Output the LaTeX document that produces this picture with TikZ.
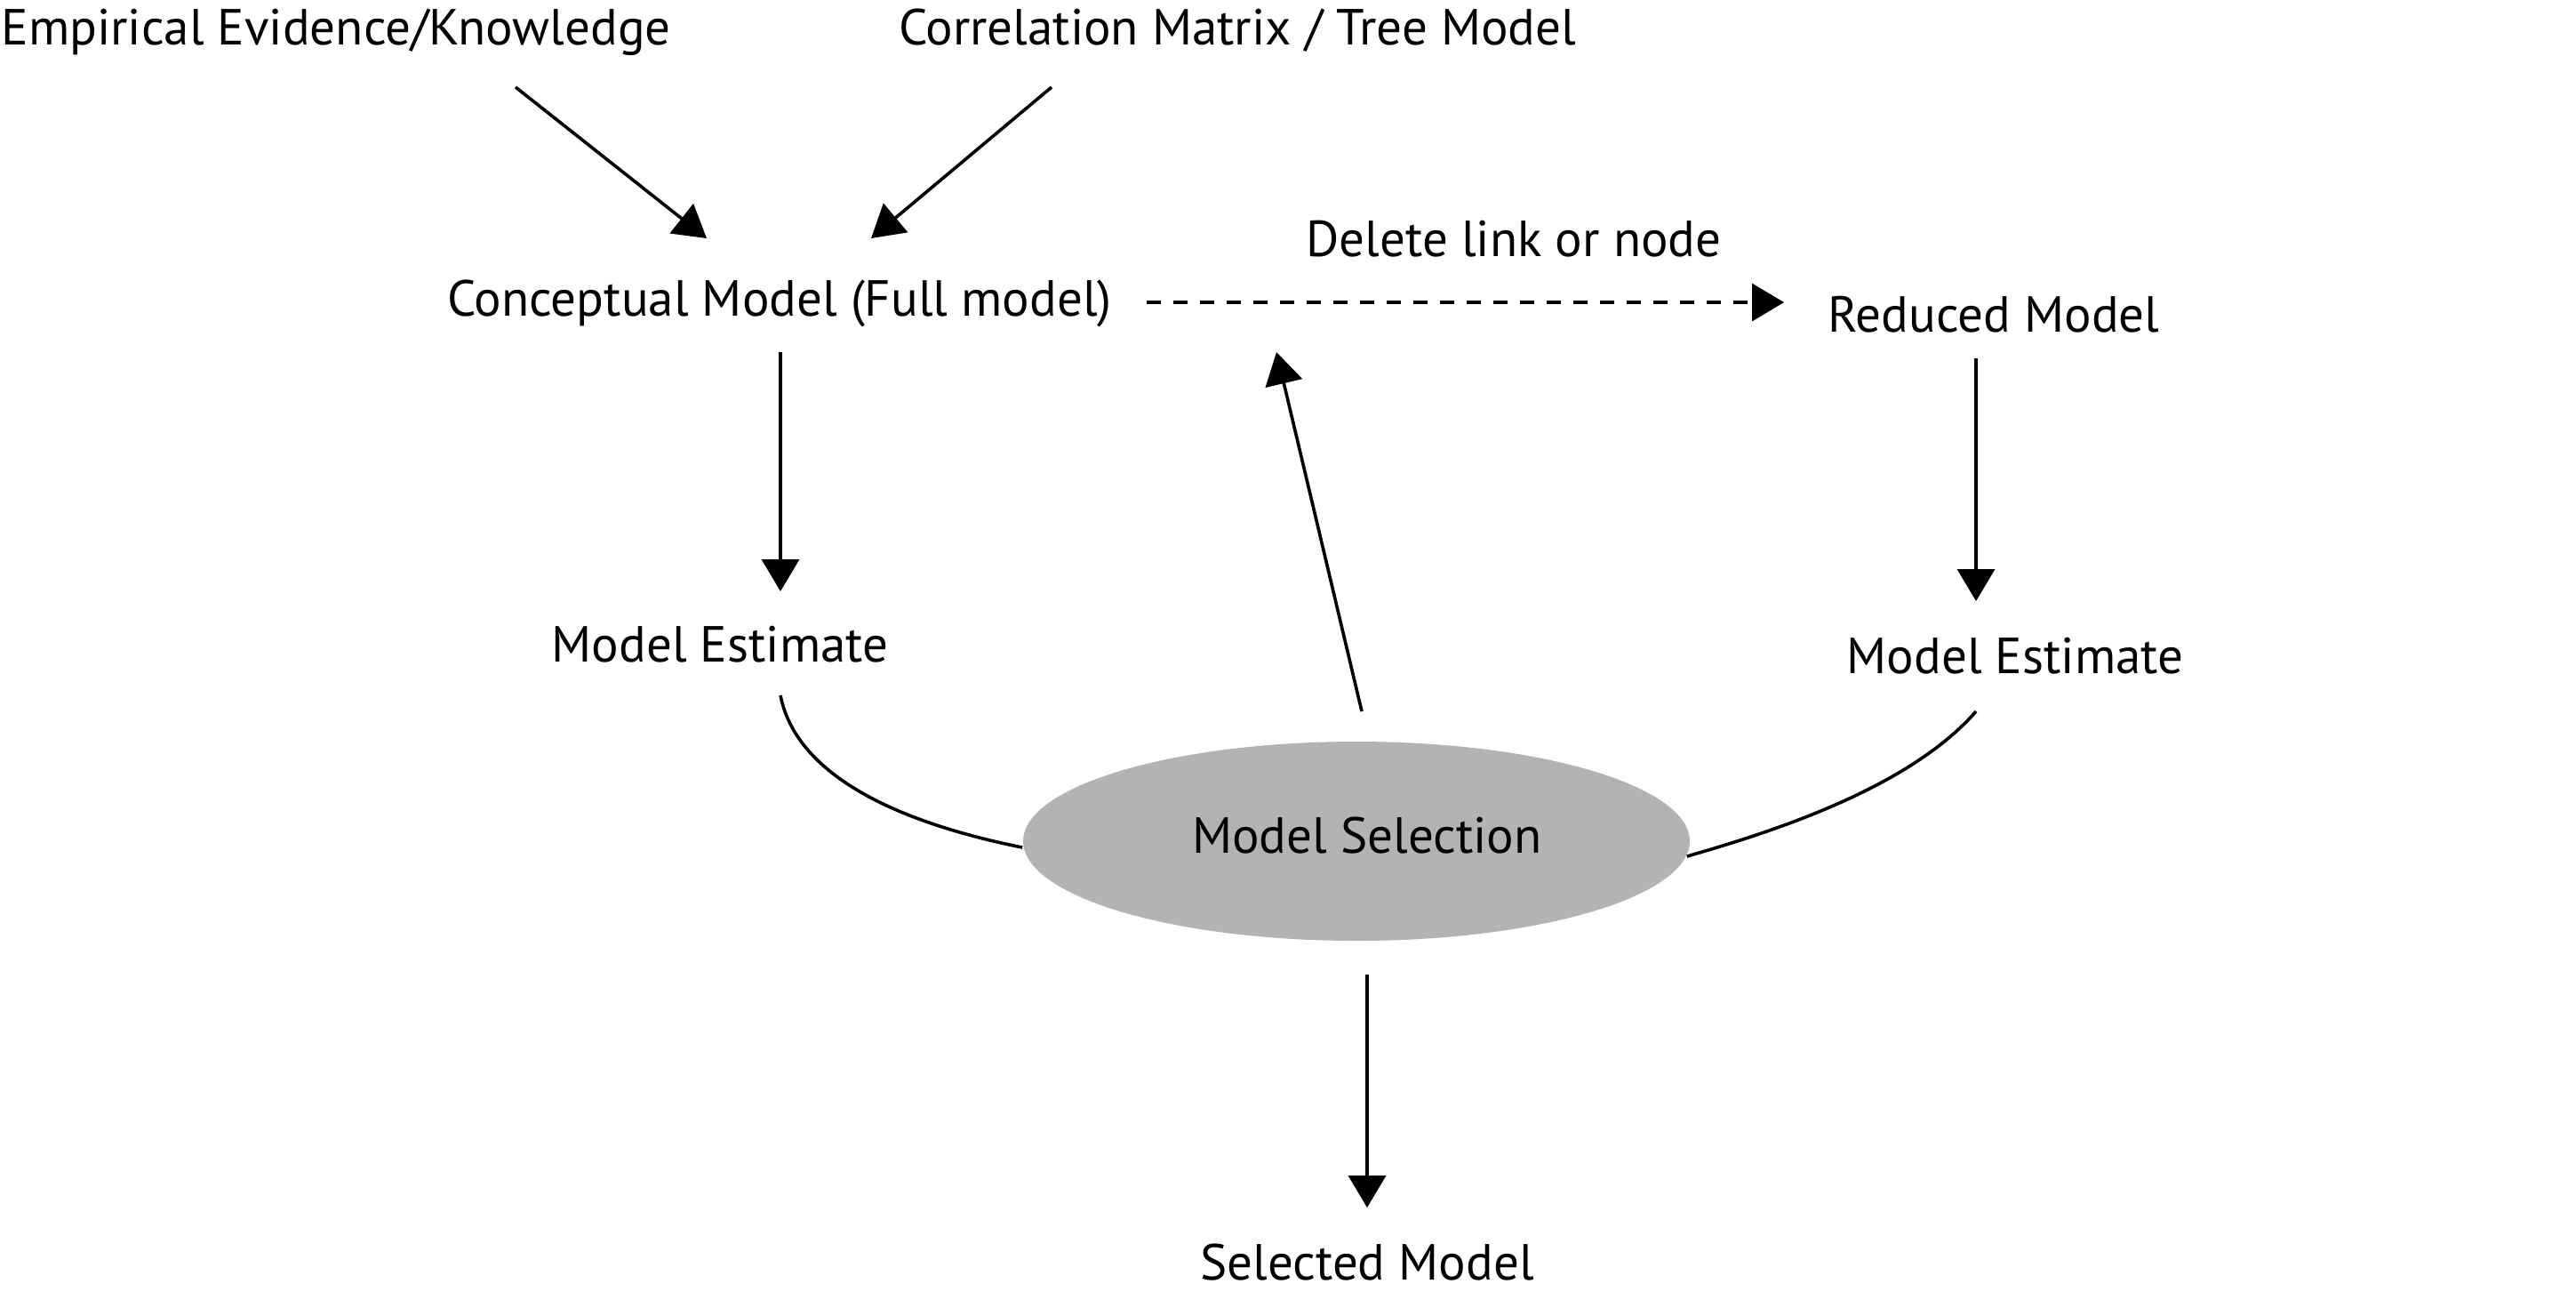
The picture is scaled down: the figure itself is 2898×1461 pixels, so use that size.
\documentclass[tikz,border=0pt]{standalone}
\usepackage{fontspec}
\setmainfont{PT Sans}
\usetikzlibrary{arrows.meta,shapes.geometric}
\begin{document}
\begin{tikzpicture}[x=0.25pt,y=-0.25pt,
  lbl/.style={inner sep=0pt,font=\fontsize{14.25}{17}\selectfont,text height=13pt,text depth=3pt},
  arr/.style={line width=0.9pt,-{Triangle[length=9pt,width=10.5pt]}},
  conn/.style={line width=0.9pt},
  sel/.style={ellipse,fill=selgray,draw=none,minimum width=187.5pt,minimum height=56pt,inner sep=0pt,font=\fontsize{14.25}{17}\selectfont}]
\definecolor{selgray}{RGB}{179,179,179}
\useasboundingbox (0,0) rectangle (2898,1461);
\node[lbl] (emp) at (378,30) {Empirical Evidence/Knowledge};
\node[lbl] (corr) at (1392,30) {Correlation Matrix / Tree Model};
\node[lbl] (concept) at (877,335) {Conceptual Model (Full model)};
\node[lbl] (del) at (1703,268) {Delete link or node};
\node[lbl] (reduced) at (2243,353) {Reduced Model};
\node[lbl] (me1) at (810,724) {Model Estimate};
\node[lbl] (me2) at (2267,737) {Model Estimate};
\node[sel] (ms) at (1526,946) {\hspace{6pt}\raisebox{3.4pt}{Model Selection}};
\node[lbl] (selm) at (1538,1419) {Selected Model};

\draw[arr] ([shift={(202,68)}]emp.center) -- ([shift={(-82,-67)}]concept.center);
\draw[arr] ([shift={(-209,68)}]corr.center) -- ([shift={(103,-67)}]concept.center);
\draw[arr,dash pattern=on 4pt off 3.5pt] ([shift={(413,5)}]concept.center) -- ([shift={(-236,-13)}]reduced.center);
\draw[arr] ([shift={(1,61)}]concept.center) -- ([shift={(68,-59)}]me1.center);
\draw[arr] ([shift={(-20,50)}]reduced.center) -- ([shift={(-44,-61)}]me2.center);
\draw[arr] ([shift={(6,-146)}]ms.center) -- ([shift={(559,61)}]concept.center);
\draw[arr] ([shift={(12,150)}]ms.center) -- ([shift={(0,-61)}]selm.center);
\draw[conn] ([shift={(68,58)}]me1.center) .. controls ([shift={(88,160)}]me1.center) and ([shift={(-110,-15)}]ms.west) .. ([shift={(0,7)}]ms.west);
\draw[conn] ([shift={(-44,63)}]me2.center) .. controls ([shift={(-120,150)}]me2.center) and ([shift={(90,-10)}]ms.east) .. ([shift={(-4,17)}]ms.east);
\end{tikzpicture}
\end{document}
